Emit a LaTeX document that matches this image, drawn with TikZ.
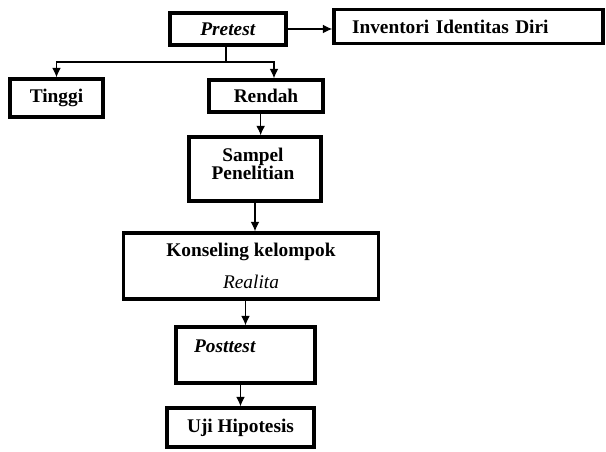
\documentclass[tikz,border=0pt]{standalone}
\usepackage{fontspec}
\setmainfont{Liberation Serif}
\usetikzlibrary{arrows.meta}

\begin{document}
\begin{tikzpicture}[x=0.75pt, y=-0.75pt, >={Latex[length=7pt,width=6.5pt]},
    box/.style={draw, line width=2.6pt, fill=white, inner sep=0pt},
    txt/.style={font=\bfseries\fontsize{14.5}{13.5}\selectfont, align=center},
    link/.style={line width=0.8pt}]
    \useasboundingbox (0,0) rectangle (606,452);

    % boxes
    \node [box, txt, minimum width=87pt, minimum height=24pt] (pretest) at (228,29) {\textit{Pretest}};
    \node [box, txt, minimum width=201.75pt, minimum height=25.5pt, text width=174.75pt, inner xsep=13.5pt, align=left] (inventori) at (468.5,26.5) {Inventori Identitas Diri};
    \node [box, txt, minimum width=69.75pt, minimum height=28.5pt] (tinggi) at (56.5,98) {Tinggi};
    \node [box, txt, minimum width=85.5pt, minimum height=24pt] (rendah) at (266,96) {Rendah};
    \node [box, minimum width=99pt, minimum height=48pt] (sampel) at (255,169) {};
    \node [txt] (sampeltext) at (253,164) {Sampel\\Penelitian};
    \node [box, txt, minimum width=191.25pt, minimum height=49.5pt] (konseling) at (251,266) {Konseling kelompok\\[10.5pt]{\mdseries\itshape Realita}};
    \node [box, minimum width=104.25pt, minimum height=42pt] (posttest) at (245.5,355) {};
    \node [txt] (posttesttext) at (225,346) {\textit{Posttest}};
    \node [box, txt, minimum width=110.25pt, minimum height=29.25pt] (uji) at (240.5,427.5) {Uji Hipotesis};

    % connectors
    \coordinate (split) at (226,62);
    \draw [->, link] (pretest.east) -- (pretest.east -| inventori.west);
    \draw [link] (pretest.south -| split) -- (split);
    \draw [->, link] (split) -| (tinggi.north);
    \draw [->, link] (split) -| ([xshift=6pt]rendah.north);
    \draw [->, link] ([xshift=-4pt]rendah.south) -- ([xshift=-4pt]rendah.south |- sampel.north);
    \draw [->, link] (sampel.south) -- (sampel.south |- konseling.north);
    \draw [->, link] (posttest.north |- konseling.south) -- (posttest.north);
    \draw [->, link] (uji.north |- posttest.south) -- (uji.north);
\end{tikzpicture}
\end{document}
